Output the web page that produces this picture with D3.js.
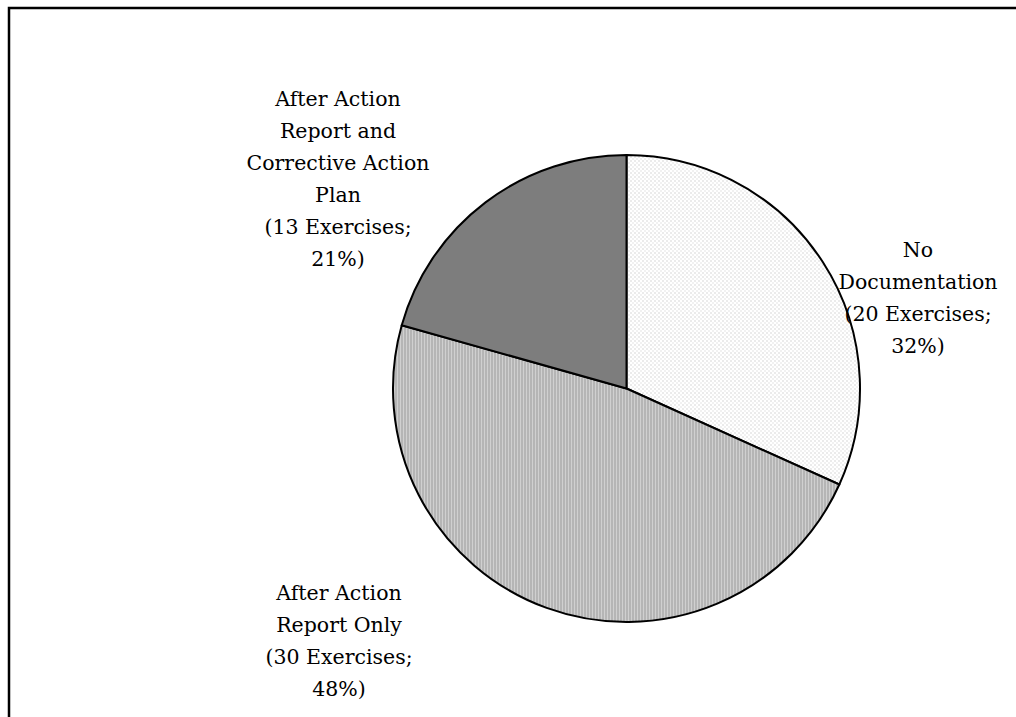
<!DOCTYPE html>
<html>
<head>
<meta charset="utf-8">
<script src="https://cdn.jsdelivr.net/npm/d3@7"></script>
<style>
html,body{margin:0;padding:0;background:#fff;}
svg{display:block;}
</style>
</head>
<body>
<svg id="chart" width="1016" height="717"></svg>
<script>
const categories = ["No Documentation", "After Action Report Only", "After Action Report and Corrective Action Plan"];
const exercises = [20, 30, 13];
const percents = ["32%", "48%", "21%"];
const labelLines = [
  ["No", "Documentation", "(20 Exercises;", "32%)"],
  ["After Action", "Report Only", "(30 Exercises;", "48%)"],
  ["After Action", "Report and", "Corrective Action", "Plan", "(13 Exercises;", "21%)"]
];

const svg = d3.select("#chart");
const W = 1016, H = 717;
const cx = 626.5, cy = 388.5, r = 233.5;

const defs = svg.append("defs");
const p0 = defs.append("pattern").attr("id","pat0").attr("patternUnits","userSpaceOnUse").attr("width",4).attr("height",4);
p0.append("rect").attr("width",4).attr("height",4).attr("fill","#ffffff");
p0.append("rect").attr("x",0).attr("y",0).attr("width",1).attr("height",1).attr("fill","#b0b0b0");
p0.append("rect").attr("x",2).attr("y",2).attr("width",1).attr("height",1).attr("fill","#c8c8c8");
const p1 = defs.append("pattern").attr("id","pat1").attr("patternUnits","userSpaceOnUse").attr("width",3).attr("height",3);
p1.append("rect").attr("width",3).attr("height",3).attr("fill","#d0d0d0");
p1.append("rect").attr("x",0).attr("y",0).attr("width",1).attr("height",3).attr("fill","#9a9a9a");
const p2 = defs.append("pattern").attr("id","pat2").attr("patternUnits","userSpaceOnUse").attr("width",2).attr("height",2);
p2.append("rect").attr("width",2).attr("height",2).attr("fill","#7e7e7e");
p2.append("rect").attr("x",0).attr("y",0).attr("width",1).attr("height",1).attr("fill","#6a6a6a");
p2.append("rect").attr("x",1).attr("y",1).attr("width",1).attr("height",1).attr("fill","#8e8e8e");

const fills = ["url(#pat0)","url(#pat1)","url(#pat2)"];

svg.append("path")
  .attr("d", `M${W+5},8 L9,8 L9,${H+5}`)
  .attr("fill","none").attr("stroke","#000").attr("stroke-width",2.5);

const data = categories.map((c,i)=>({cat:c, value:exercises[i], i}));
const pie = d3.pie().sort(null).value(d=>d.value);
const arc = d3.arc().innerRadius(0).outerRadius(r);
const arcs = pie(data);

const g = svg.append("g").attr("transform",`translate(${cx},${cy})`);
g.selectAll("path.slice").data(arcs).enter().append("path")
  .attr("class","slice")
  .attr("d",arc)
  .attr("fill",d=>fills[d.data.i])
  .attr("stroke","#000").attr("stroke-width",2).attr("stroke-linejoin","round");

const labelPos = [
  {x:918, y:257},
  {x:339, y:600},
  {x:338, y:106}
];
const lineH = 32;
const fontFamily = "'DejaVu Serif', 'Liberation Serif', serif";
labelLines.forEach((lines,i)=>{
  const t = svg.append("text")
    .attr("text-anchor","middle")
    .attr("font-family",fontFamily)
    .attr("font-size",20.5)
    .attr("fill","#000");
  lines.forEach((ln,j)=>{
    t.append("tspan").attr("x",labelPos[i].x).attr("y",labelPos[i].y + j*lineH).text(ln);
  });
});
</script>
</body>
</html>
